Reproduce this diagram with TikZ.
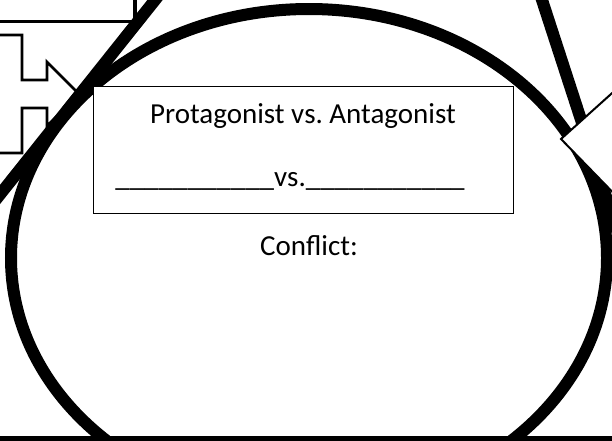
\documentclass[tikz,border=0pt]{standalone}
\usepackage{fontspec}
\setmainfont{Carlito}
\frenchspacing
\begin{document}
\begin{tikzpicture}[x=1pt,y=-1pt,
  heavyline/.style={line width=12pt},
  outlinethin/.style={line width=2.7pt, line join=miter},
  whiteshape/.style={draw, fill=white, line width=2pt, line join=miter},
  txt/.style={font=\fontsize{29}{35}\selectfont, inner sep=0pt, anchor=base}]
\useasboundingbox (0,0) rectangle (612,440);
\begin{scope}
  \clip (0,0) rectangle (612,440);
  % left block arrow
  \draw[outlinethin] (-5,35) -- (22,35) -- (22,80) -- (47,80) -- (47,62) -- (79,94)
        -- (47,126) -- (47,108) -- (22,108) -- (22,153) -- (-5,153);
  % top-left box corner
  \draw[line width=3.2pt] (-5,21.5) -- (135,21.5) -- (135,-5);
  % big ellipse
  \draw[heavyline] (309,258) ellipse [x radius=298pt, y radius=249pt];
  % triangle sides
  \draw[heavyline] (159,-5) -- (-10,207);
  \draw[heavyline] (540.4,-5) -- (625,255);
  % right chevron
  \path[whiteshape] (660,50) -- (561,139) -- (660,241) -- cycle;
  % bottom band
  \fill (-5,435.5) rectangle (620,445);
\end{scope}
\node[draw, line width=1.3pt, fill=white, minimum width=420pt, minimum height=127pt,
      inner sep=0pt, anchor=north west] (box) at (93,86) {};
\node[txt] (t1) at (303,123) {Protagonist vs. Antagonist};
\node[txt] (t2) at (290,186) {\_\_\_\_\_\_\_\_\_\_\_vs.\_\_\_\_\_\_\_\_\_\_\_};
\node[txt] (t3) at (309,255) {Conflict:};
\end{tikzpicture}
\end{document}
